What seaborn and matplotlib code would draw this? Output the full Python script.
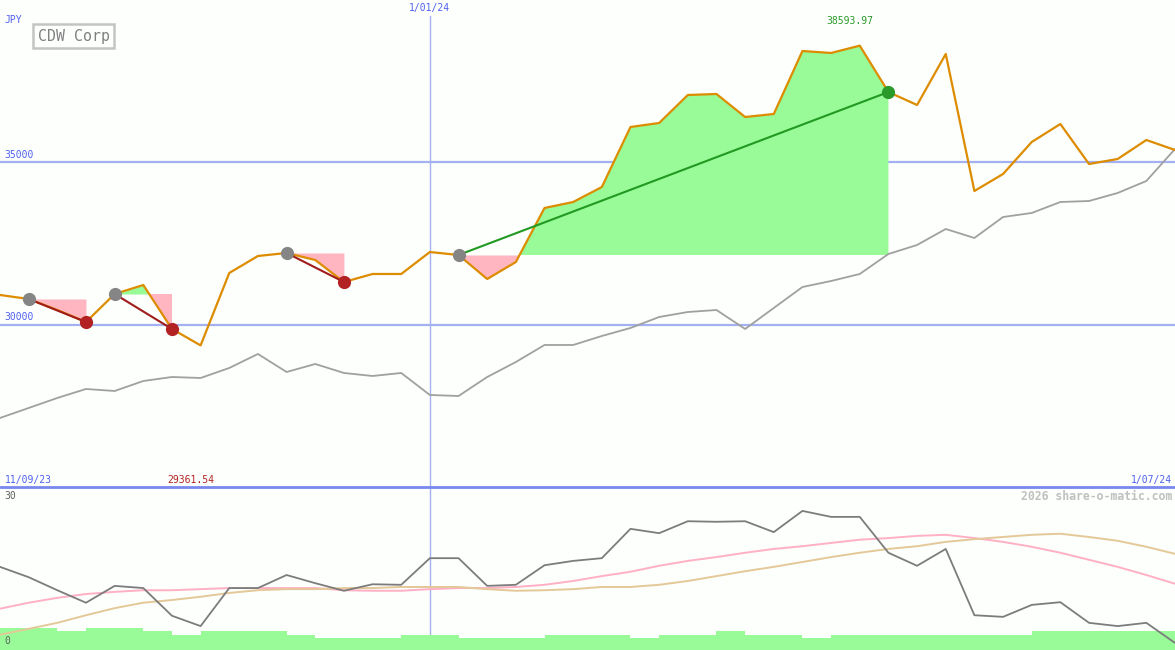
import numpy as np
import pandas as pd
import matplotlib
matplotlib.use("Agg")
import matplotlib.pyplot as plt
import seaborn as sns

# ---------------- data (weekly) ----------------
price = [30914, 30791, 30452, 30082, 30945, 31222, 29867, 29361.54, 31592, 32115,
         32208, 31992, 31314, 31561, 31561, 32238, 32146, 31407, 31930, 33594,
         33778, 34240, 36088, 36212, 37074, 37105, 36396, 36489, 38429, 38368,
         38593.97, 37166, 36766, 38337, 34117, 34641, 35626, 36181, 34949, 35103,
         35688, 35380]
avg_line = [27126, 27434, 27742, 28019, 27957, 28265, 28388, 28358, 28666, 29097,
            28542, 28789, 28512, 28419, 28512, 27834, 27803, 28388, 28850, 29374,
            29374, 29651, 29898, 30236, 30390, 30452, 29867, 30514, 31160, 31345,
            31561, 32177, 32454, 32947, 32670, 33316, 33440, 33778, 33809, 34056,
            34425, 35411]
osc = [15.3, 13.4, 11.0, 8.7, 11.8, 11.4, 6.3, 4.4, 11.4, 11.4,
       13.8, 12.3, 10.9, 12.1, 12.0, 16.9, 16.9, 11.8, 12.0, 15.6,
       16.4, 16.9, 22.3, 21.5, 23.7, 23.6, 23.7, 21.7, 25.6, 24.5,
       24.5, 17.9, 15.5, 18.6, 6.4, 6.1, 8.3, 8.8, 5.0, 4.4,
       5.0, 1.3]
osc_fast = [7.6, 8.7, 9.6, 10.3, 10.7, 11.0, 11.0, 11.2, 11.4, 11.4,
            11.4, 11.4, 11.0, 10.9, 10.9, 11.2, 11.4, 11.4, 11.6, 12.0,
            12.7, 13.6, 14.4, 15.5, 16.4, 17.1, 17.9, 18.6, 19.1, 19.7,
            20.3, 20.6, 21.0, 21.2, 20.6, 19.9, 19.0, 17.9, 16.6, 15.3,
            13.8, 12.2]
osc_slow = [2.8, 3.9, 5.0, 6.4, 7.7, 8.7, 9.2, 9.8, 10.5, 11.0,
            11.2, 11.2, 11.4, 11.4, 11.6, 11.6, 11.6, 11.2, 10.9, 11.0,
            11.2, 11.6, 11.6, 12.0, 12.7, 13.6, 14.5, 15.3, 16.2, 17.1,
            17.9, 18.6, 19.1, 19.9, 20.4, 20.8, 21.2, 21.4, 20.8, 20.1,
            19.0, 17.7]
volume = [22, 22, 19, 22, 22, 19, 15, 19, 19, 19,
          15, 12, 12, 12, 15, 15, 12, 12, 12, 15,
          15, 15, 12, 15, 15, 19, 15, 15, 12, 15,
          15, 15, 15, 15, 15, 15, 19, 19, 19, 19,
          19, 19]
trades = [(1, 3), (4, 6), (10, 12), (16, 31)]
date_labels = ["11/09/23", "1/01/24", "1/07/24"]
year_mark_index = 15
price_levels = [35000, 30000]
company = "CDW Corp"
currency = "JPY"

weeks = np.arange(len(price))
df = pd.DataFrame({"week": weeks, "price": price, "avg": avg_line,
                   "osc": osc, "fast": osc_fast, "slow": osc_slow, "vol": volume})

# ---------------- style ----------------
sns.set_theme(style="white")
plt.rcParams["font.family"] = ["DejaVu Sans Mono", "DejaVu Sans"]
BG = "#fcfffc"
BLUE_TXT = "#5060f0"
GRID = "#a3b1f2"
ORANGE = "#dd8c00"

fig = plt.figure(figsize=(11.75, 6.5), dpi=100, facecolor=BG)
ax1 = fig.add_axes([0, 163 / 650, 1, 487 / 650])
ax2 = fig.add_axes([0, 0, 1, 163 / 650])
for ax in (ax1, ax2):
    ax.set_facecolor(BG)
    for sp in ax.spines.values():
        sp.set_visible(False)
    ax.set_xticks([])
    ax.set_yticks([])
    ax.set_xlim(0, len(price) - 1)

ax1.set_ylim(25000, 40000)
ax2.set_ylim(0, 30)

# ---------------- upper panel ----------------
for lv in price_levels:
    ax1.axhline(lv, color=GRID, lw=1.6, zorder=0.5)
    ax1.text(0.004, lv + 80, f"{lv}", transform=ax1.get_yaxis_transform(),
             color=BLUE_TXT, fontsize=7, va="bottom", ha="left")

ax1.axvline(year_mark_index, ymin=0, ymax=1 - 16 / 487, color=GRID, lw=1, zorder=0.5)

parr = np.array(price, dtype=float)
for s, e in trades:
    xs = weeks[s:e + 1]
    ps = parr[s:e + 1]
    lvl = parr[s]
    ax1.fill_between(xs, lvl, ps, where=ps >= lvl, interpolate=True,
                     color="#98fb98", lw=0, zorder=1)
    ax1.fill_between(xs, lvl, ps, where=ps < lvl, interpolate=True,
                     color="#ffb6c1", lw=0, zorder=1)

sns.lineplot(data=df, x="week", y="avg", ax=ax1, color="#a0a0a0", lw=1.3, zorder=2)
sns.lineplot(data=df, x="week", y="price", ax=ax1, color=ORANGE, lw=1.6, zorder=3)

for s, e in trades:
    gain = parr[e] > parr[s]
    lc = "#229922" if gain else "#a01c1c"
    mc = "#2a9a2a" if gain else "#b22222"
    ax1.plot([s, e], [parr[s], parr[e]], color=lc, lw=1.5, zorder=4)
    ax1.plot([s], [parr[s]], "o", color="#858585", ms=9.5, mew=0, zorder=5)
    ax1.plot([e], [parr[e]], "o", color=mc, ms=9.5, mew=0, zorder=5)

ax1.set_xlabel("")
ax1.set_ylabel("")
ax1.set_xlim(0, len(price) - 1)
ax1.set_ylim(25000, 40000)

imax = int(np.argmax(parr))
imin = int(np.argmin(parr))
ax1.text(imax - 0.33, 0.957, f"{parr[imax]:.2f}", transform=ax1.get_xaxis_transform(),
         color="#2a9a2a", fontsize=7, ha="center", va="center")
ax1.text(imin - 0.33, 0.008, f"{parr[imin]:.2f}", transform=ax1.get_xaxis_transform(),
         color="#b22222", fontsize=7, ha="center", va="baseline")

ax1.text(0.004, 0.008, date_labels[0], transform=ax1.transAxes, color=BLUE_TXT,
         fontsize=7, ha="left", va="baseline")
ax1.text(0.9975, 0.008, date_labels[2], transform=ax1.transAxes, color=BLUE_TXT,
         fontsize=7, ha="right", va="baseline")
ax1.text(year_mark_index, 1 - 8 / 487, date_labels[1], transform=ax1.get_xaxis_transform(),
         color=BLUE_TXT, fontsize=7, ha="center", va="center")
ax1.text(0.004, 1 - 20 / 487, currency, transform=ax1.transAxes, color=BLUE_TXT,
         fontsize=7, ha="left", va="center")
ax1.text(73.5 / 1175, 1 - 36 / 487, company, transform=ax1.transAxes, color="#808080",
         fontsize=10.7, ha="center", va="center",
         bbox=dict(boxstyle="square,pad=0.32", facecolor=BG, edgecolor="#c4c4c4", lw=1.8))

# ---------------- lower panel ----------------
axv = ax2.twinx()
axv.set_ylim(0, 163)
axv.set_yticks([])
for sp in axv.spines.values():
    sp.set_visible(False)
axv.axvline(year_mark_index, color=GRID, lw=1, zorder=0.5)
axv.bar(weeks, volume, width=1.0, align="edge", color="#98fb98", lw=0, zorder=1)
axv.set_xlim(0, len(price) - 1)
axv.set_zorder(ax2.get_zorder() - 1)
ax2.patch.set_visible(False)
axv.patch.set_visible(True)
axv.patch.set_facecolor(BG)

sns.lineplot(data=df, x="week", y="fast", ax=ax2, color="#ffb0c4", lw=1.4, zorder=2)
sns.lineplot(data=df, x="week", y="slow", ax=ax2, color="#e4c898", lw=1.4, zorder=2)
sns.lineplot(data=df, x="week", y="osc", ax=ax2, color="#7c7c7c", lw=1.3, zorder=3)
ax2.set_xlabel("")
ax2.set_ylabel("")
ax2.set_xlim(0, len(price) - 1)
ax2.set_ylim(0, 30)

ax2.axhline(30, color="#7888ee", lw=2, zorder=6, clip_on=False)
ax2.text(0.004, 1 - 9 / 163, "30", transform=ax2.transAxes, color="#606060",
         fontsize=7, ha="left", va="center")
ax2.text(0.004, 9 / 163, "0", transform=ax2.transAxes, color="#606060",
         fontsize=7, ha="left", va="center")
ax2.text(0.9975, 1 - 10 / 163, "2026 share-o-matic.com", transform=ax2.transAxes,
         color="#c0c0c0", fontsize=8.3, fontweight="bold", ha="right", va="center")

fig.savefig("out.png", dpi=100, facecolor=BG)
